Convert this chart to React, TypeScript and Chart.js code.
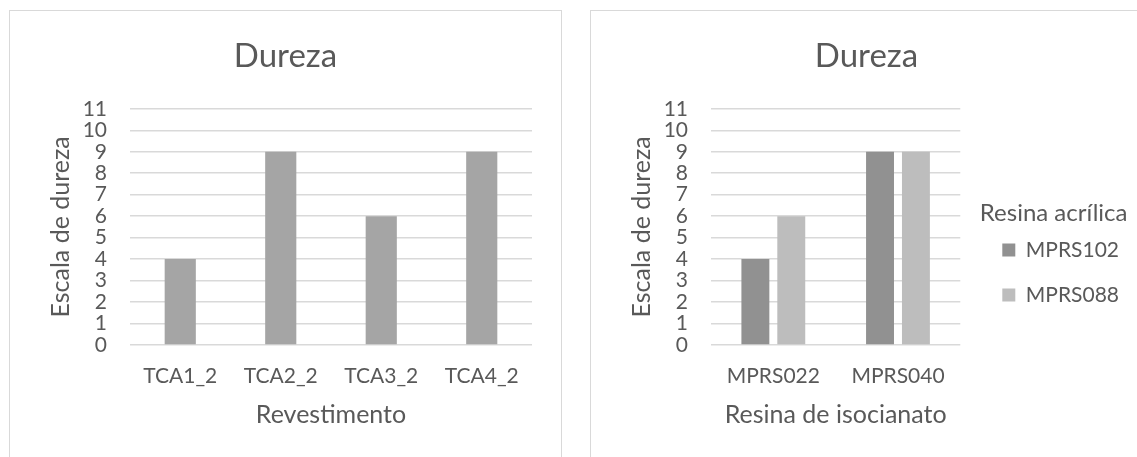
import React, { useEffect, useRef } from 'react';
import { Chart, registerables } from 'chart.js';

Chart.register(...registerables);

// Hardness per coating
const coatings = ['TCA1_2', 'TCA2_2', 'TCA3_2', 'TCA4_2'];
const coatingHardness = [4, 9, 6, 9];

// Hardness per isocyanate resin, split by acrylic resin
const isocyanateResins = ['MPRS022', 'MPRS040'];
const acrylicResins = ['MPRS102', 'MPRS088'];
const hardnessMPRS102 = [4, 9];
const hardnessMPRS088 = [6, 9];

const scaleMin = 0;
const scaleMax = 11;
const scaleStep = 1;

const FONT = "Lato, 'Noto Sans', sans-serif";
const TEXT = '#595959';
const GRID = '#D9D9D9';
const CANVAS_W = 551;
const CANVAS_H = 446;

// An empty right-hand axis used only to reserve horizontal room
function spacer(width: number, weight: number) {
  return {
    position: 'right',
    display: true,
    weight,
    grid: { display: false, drawTicks: false, tickLength: 0 },
    border: { display: false },
    ticks: { display: false },
    afterFit: (s: any) => {
      s.width = width;
    },
  };
}

function yScale() {
  return {
    min: scaleMin,
    max: scaleMax,
    grid: { color: GRID, lineWidth: 1.5, drawTicks: false, tickLength: 0 },
    border: { display: false },
    ticks: {
      stepSize: scaleStep,
      autoSkip: false,
      padding: 23,
      color: TEXT,
      font: { family: FONT, size: 21 },
    },
    title: {
      display: true,
      text: 'Escala de dureza',
      color: TEXT,
      font: { family: FONT, size: 25 },
      padding: { top: 36, bottom: 0 },
    },
    afterFit: (s: any) => {
      s.width = 120;
    },
  };
}

function xScale(title: string) {
  return {
    grid: { display: false, drawTicks: false, tickLength: 0 },
    border: { display: false },
    ticks: {
      padding: 18.4,
      color: TEXT,
      font: { family: FONT, size: 21 },
      maxRotation: 0,
      autoSkip: false,
    },
    title: {
      display: true,
      text: title,
      color: TEXT,
      font: { family: FONT, size: 25 },
      padding: { top: 0, bottom: 27 },
    },
    afterFit: (s: any) => {
      s.height = CANVAS_H - 334;
    },
  };
}

function chartTitle() {
  return {
    display: true,
    text: 'Dureza',
    color: TEXT,
    font: { family: FONT, size: 33, weight: 'normal' as const, lineHeight: 1.2 },
    padding: { top: 25.2, bottom: 33 },
  };
}

function coatingConfig(): any {
  return {
    type: 'bar',
    data: {
      labels: coatings,
      datasets: [
        {
          label: 'Dureza',
          data: coatingHardness,
          backgroundColor: '#A5A5A5',
          borderWidth: 0,
          categoryPercentage: 1,
          barPercentage: 0.31,
        },
      ],
    },
    options: {
      responsive: false,
      animation: false,
      layout: { padding: 0 },
      plugins: {
        legend: { display: false },
        title: chartTitle(),
        tooltip: { enabled: false },
      },
      scales: {
        x: xScale('Revestimento'),
        y: yScale(),
        rightRoom: spacer(29, 0),
      },
    },
  };
}

function resinConfig(): any {
  return {
    type: 'bar',
    data: {
      labels: isocyanateResins,
      datasets: [
        {
          label: acrylicResins[0],
          data: hardnessMPRS102,
          backgroundColor: '#919191',
          borderColor: '#919191',
          borderWidth: 0,
          categoryPercentage: 0.576,
          barPercentage: 0.778,
        },
        {
          label: acrylicResins[1],
          data: hardnessMPRS088,
          backgroundColor: '#BDBDBD',
          borderColor: '#BDBDBD',
          borderWidth: 0,
          categoryPercentage: 0.576,
          barPercentage: 0.778,
        },
      ],
    },
    options: {
      responsive: false,
      animation: false,
      layout: { padding: 0 },
      plugins: {
        legend: {
          display: true,
          position: 'right',
          align: 'center',
          maxWidth: 260,
          title: {
            display: true,
            text: 'Resina acrílica',
            color: TEXT,
            font: { family: FONT, size: 24, lineHeight: 1 },
            padding: { top: 62.5, bottom: -9.5 },
          },
          labels: {
            color: TEXT,
            font: { family: FONT, size: 21 },
            boxWidth: 13,
            boxHeight: 13,
            padding: 24,
          },
        },
        title: chartTitle(),
        tooltip: { enabled: false },
      },
      scales: {
        x: xScale('Resina de isocianato'),
        y: yScale(),
        innerRoom: spacer(18, 0),
        outerRoom: spacer(13, 2000),
      },
    },
  };
}

function ChartBox({ left, config }: { left: number; config: () => any }) {
  const ref = useRef<HTMLCanvasElement>(null);
  useEffect(() => {
    if (!ref.current) return;
    const chart = new Chart(ref.current, config());
    return () => chart.destroy();
  }, [config]);
  return (
    <div
      style={{
        position: 'absolute',
        left,
        top: 10,
        width: 553,
        height: 470,
        border: '1px solid #D9D9D9',
        boxSizing: 'border-box',
        background: '#fff',
      }}
    >
      <canvas ref={ref} width={CANVAS_W} height={CANVAS_H} style={{ display: 'block' }} />
    </div>
  );
}

export default function App() {
  return (
    <div
      style={{
        position: 'fixed',
        left: 0,
        top: 0,
        width: '100vw',
        height: '100vh',
        overflow: 'hidden',
        background: '#fff',
      }}
    >
      <ChartBox left={9} config={coatingConfig} />
      <ChartBox left={590} config={resinConfig} />
    </div>
  );
}
